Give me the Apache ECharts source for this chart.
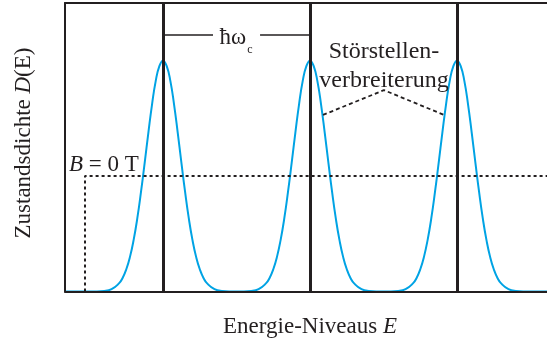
<!DOCTYPE html>
<html><head><meta charset="utf-8">
<script src="https://cdn.jsdelivr.net/npm/echarts@6/dist/echarts.min.js"></script>
<style>html,body{margin:0;padding:0;background:#fff}#c{width:547px;height:342px}</style>
</head><body><div id="c"></div><script>
// Energy axis in units of the level spacing (hbar*omega_c); density normalised to axis top = 1
const energy = [0.333,
  0.5,0.6,0.65,0.7,0.725,0.75,0.775,0.8,0.825,0.85,0.875,0.9,0.925,0.95,0.975,1.0,1.025,1.05,1.075,1.1,1.125,1.15,1.175,1.2,1.225,1.25,1.275,1.3,1.35,1.4,
  1.5,1.6,1.65,1.7,1.725,1.75,1.775,1.8,1.825,1.85,1.875,1.9,1.925,1.95,1.975,2.0,2.025,2.05,2.075,2.1,2.125,2.15,2.175,2.2,2.225,2.25,2.275,2.3,2.35,2.4,
  2.5,2.6,2.65,2.7,2.725,2.75,2.775,2.8,2.825,2.85,2.875,2.9,2.925,2.95,2.975,3.0,3.025,3.05,3.075,3.1,3.125,3.15,3.175,3.2,3.225,3.25,3.275,3.3,3.35,3.4,
  3.5,3.612];
const density = [0,
  0,0.002,0.008,0.028,0.047,0.077,0.120,0.179,0.254,0.345,0.446,0.550,0.648,0.729,0.781,0.800,0.781,0.729,0.648,0.550,0.446,0.345,0.254,0.179,0.120,0.077,0.047,0.028,0.008,0.002,
  0,0.002,0.008,0.028,0.047,0.077,0.120,0.179,0.254,0.345,0.446,0.550,0.648,0.729,0.781,0.800,0.781,0.729,0.648,0.550,0.446,0.345,0.254,0.179,0.120,0.077,0.047,0.028,0.008,0.002,
  0,0.002,0.008,0.028,0.047,0.077,0.120,0.179,0.254,0.345,0.446,0.550,0.648,0.729,0.781,0.800,0.781,0.729,0.648,0.550,0.446,0.345,0.254,0.179,0.120,0.077,0.047,0.028,0.008,0.002,
  0,0];
const landauLevels = [1, 2, 3];
const bZeroLevel = 0.4;
const bZeroStart = 0.469;
const xMin = 0.333, xMax = 3.612;
const annotationX = [2.088, 2.503, 2.912];
const annotationY = [0.612, 0.698, 0.612];
const hbarY = 0.889;
const hbarSegments = [[1, 1.34], [1.66, 2]];

const INK = '#231f20';
const FONT = '"Liberation Serif", "Times New Roman", serif';
const chart = echarts.init(document.getElementById('c'));

const curve = energy.map((e, i) => [e, density[i]]);
const bLine = [[bZeroStart, 0], [bZeroStart, bZeroLevel], [xMax, bZeroLevel]];
const annot = annotationX.map((x, i) => [x, annotationY[i]]);

const series = [
  {type: 'line', data: curve, smooth: true, showSymbol: false, symbol: 'none',
   lineStyle: {color: '#00a3e4', width: 2}, z: 2, silent: true},
  {type: 'line', data: [], symbol: 'none', silent: true,
   markLine: {silent: true, symbol: ['none', 'none'], label: {show: false},
     lineStyle: {color: INK, width: 3, type: 'solid'},
     data: landauLevels.map(v => ({xAxis: v}))}, z: 4},
  {type: 'line', data: bLine, symbol: 'none', silent: true,
   lineStyle: {color: INK, width: 2, type: [3, 3]}, z: 3},
  {type: 'line', data: annot, symbol: 'none', silent: true,
   lineStyle: {color: INK, width: 1.8, type: [4, 3]}, z: 3}
];
hbarSegments.forEach(s => series.push({type: 'line', symbol: 'none', silent: true,
  data: [[s[0], hbarY], [s[1], hbarY]], lineStyle: {color: INK, width: 1.5}, z: 3}));

function rich(size) {
  return {
    n: {fontFamily: FONT, fontSize: size, color: INK},
    i: {fontFamily: FONT, fontSize: size, fontStyle: 'italic', color: INK},
    s: {fontFamily: FONT, fontSize: Math.round(size * 0.5), color: INK, verticalAlign: 'bottom', padding: [0, 0, -6, 1]}
  };
}
function txt(x, y, text, size, align, rot) {
  return {type: 'text', x: x, y: y, rotation: rot || 0, silent: true, z: 10,
    style: {text: text, rich: rich(size), font: size + 'px ' + FONT, fill: INK,
      align: align || 'center', verticalAlign: 'middle'}};
}

chart.setOption({
  animation: false,
  grid: {left: 65, top: 3, right: 0, bottom: 50.5},
  xAxis: [
    {type: 'value', min: xMin, max: xMax, z: 5,
     axisLine: {show: true, onZero: false, lineStyle: {color: INK, width: 2}},
     axisTick: {show: false}, axisLabel: {show: false}, splitLine: {show: false}},
    {type: 'value', position: 'top', min: xMin, max: xMax, z: 5,
     axisLine: {show: true, onZero: false, lineStyle: {color: INK, width: 2}},
     axisTick: {show: false}, axisLabel: {show: false}, splitLine: {show: false}}
  ],
  yAxis: {type: 'value', min: 0, max: 1, z: 5,
    axisLine: {show: true, onZero: false, lineStyle: {color: INK, width: 2}},
    axisTick: {show: false}, axisLabel: {show: false}, splitLine: {show: false}},
  series: series,
  graphic: [
    txt(24, 143, '{n|Zustandsdichte }{i|D}{n|(E)}', 23, 'center', Math.PI / 2),
    txt(310, 327, '{n|Energie-Niveaus }{i|E}', 23, 'center'),
    txt(69, 165, '{i|B}{n| = 0 T}', 23, 'left'),
    txt(236, 38, '{n|ħω}{s|c}', 23, 'center'),
    txt(384, 52, '{n|Störstellen-}', 24, 'center'),
    txt(384, 81, '{n|verbreiterung}', 24, 'center')
  ]
});
</script></body></html>
